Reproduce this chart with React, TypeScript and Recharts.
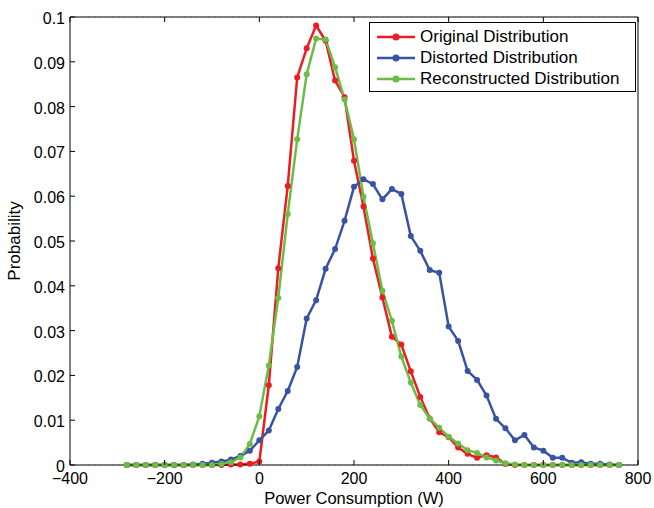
import { LineChart, Line, XAxis, YAxis, CartesianGrid } from 'recharts';

const POWER = [
  -280, -260, -240, -220, -200, -180, -160, -140, -120, -100, -80, -60, -40, -20, 0,
  20, 40, 60, 80, 100, 120, 140, 160, 180, 200, 220, 240, 260, 280, 300, 320, 340, 360,
  380, 400, 420, 440, 460, 480, 500, 520, 540, 560, 580, 600, 620, 640, 660, 680, 700,
  720, 740, 760,
];

const ORIGINAL = [
  0, 0, 0, 0, 0, 0, 0, 0, 0, 0, 0, 0.0001, 0.0001, 0.0003, 0.0008,
  0.0178, 0.0439, 0.0623, 0.0865, 0.093, 0.0981, 0.0947, 0.0858, 0.0821, 0.0679, 0.0577,
  0.0461, 0.0374, 0.0286, 0.0269, 0.0209, 0.0152, 0.0104, 0.0073, 0.0062, 0.0039, 0.0025,
  0.0016, 0.0022, 0.0017, 0.0002, 0, 0, 0, 0, 0, 0, 0, 0, 0, 0, 0, 0,
];

const DISTORTED = [
  0, 0, 0, 0, 0, 0, 0, 0.0001, 0.0003, 0.0005, 0.0008, 0.0012, 0.002, 0.0032, 0.0055,
  0.0077, 0.0125, 0.0165, 0.0219, 0.0327, 0.0368, 0.0438, 0.0482, 0.0545, 0.0621, 0.0638,
  0.0627, 0.0593, 0.0616, 0.0605, 0.0511, 0.0478, 0.0435, 0.0429, 0.0309, 0.0277, 0.021,
  0.019, 0.0155, 0.0103, 0.0082, 0.0055, 0.0067, 0.0039, 0.0032, 0.0016, 0.0016, 0.0005,
  0.0006, 0.0003, 0.0003, 0.0001, 0,
];

const RECONSTRUCTED = [
  0, 0, 0, 0, 0, 0, 0, 0, 0, 0, 0.0002, 0.0006, 0.0017, 0.0047, 0.0109,
  0.0222, 0.0373, 0.056, 0.0727, 0.0872, 0.0952, 0.095, 0.0888, 0.0816, 0.0727, 0.0599,
  0.0495, 0.0389, 0.0322, 0.0242, 0.0184, 0.0134, 0.0104, 0.0083, 0.0063, 0.0048, 0.0033,
  0.0027, 0.0017, 0.001, 0.0004, 0.0001, 0, 0, 0, 0, 0, 0, 0, 0, 0, 0, 0,
];

const X_TICKS = [-400, -200, 0, 200, 400, 600, 800];
const Y_TICKS = [0, 0.01, 0.02, 0.03, 0.04, 0.05, 0.06, 0.07, 0.08, 0.09, 0.1];

const SERIES = [
  { key: 'original', name: 'Original Distribution', color: '#ec1c24' },
  { key: 'distorted', name: 'Distorted Distribution', color: '#3953a4' },
  { key: 'reconstructed', name: 'Reconstructed Distribution', color: '#6cbd45' },
];

const data = POWER.map((x, i) => ({
  x,
  original: ORIGINAL[i],
  distorted: DISTORTED[i],
  reconstructed: RECONSTRUCTED[i],
}));

const FONT = '"Liberation Sans", Arial, sans-serif';

const fmtX = (v: number) => (v < 0 ? `\u2212${Math.abs(v)}` : String(v));

function BottomTick({ x, y, payload }: any) {
  return (
    <g>
      <line x1={x} y1={y} x2={x} y2={y - 5} stroke="#000" />
      <text x={x} y={y + 19} textAnchor="middle" fontSize={16} fontFamily={FONT} fill="#000">
        {fmtX(payload.value)}
      </text>
    </g>
  );
}

function TopTick({ x, y }: any) {
  return <line x1={x} y1={y} x2={x} y2={y + 5} stroke="#000" />;
}

function LeftTick({ x, y, payload }: any) {
  return (
    <g>
      <line x1={x} y1={y} x2={x + 5} y2={y} stroke="#000" />
      <text x={x - 5} y={y + 7} textAnchor="end" fontSize={16} fontFamily={FONT} fill="#000">
        {String(payload.value)}
      </text>
    </g>
  );
}

function RightTick({ x, y }: any) {
  return <line x1={x} y1={y} x2={x - 5} y2={y} stroke="#000" />;
}

export default function App() {
  return (
    <div style={{ position: 'absolute', left: 0, top: 0, width: 654, height: 508, background: '#fff' }}>
      <LineChart width={654} height={508} data={data} margin={{ top: 16, right: 15, left: 10, bottom: 0 }}>
        <CartesianGrid vertical={false} stroke="#b5b5b5" strokeDasharray="1 5" />
        <XAxis
          xAxisId="bottom"
          dataKey="x"
          type="number"
          domain={[-400, 800]}
          ticks={X_TICKS}
          height={43}
          tickSize={0}
          tickMargin={0}
          tickLine={false}
          axisLine={{ stroke: '#000' }}
          tick={<BottomTick />}
          label={{ value: 'Power Consumption (W)', position: 'insideBottom', offset: 4, fontSize: 16.5, fontFamily: FONT, fill: '#000' }}
        />
        <XAxis
          xAxisId="top"
          orientation="top"
          dataKey="x"
          type="number"
          domain={[-400, 800]}
          ticks={X_TICKS}
          height={1}
          tickSize={0}
          tickMargin={0}
          tickLine={false}
          axisLine={{ stroke: '#000' }}
          tick={<TopTick />}
        />
        <YAxis
          yAxisId="left"
          type="number"
          domain={[0, 0.1]}
          ticks={Y_TICKS}
          width={60}
          tickSize={0}
          tickMargin={0}
          tickLine={false}
          axisLine={{ stroke: '#000' }}
          tick={<LeftTick />}
          label={{ value: 'Probability', angle: -90, position: 'insideLeft', offset: 0, dx: 4, fontSize: 17, fontFamily: FONT, fill: '#000', style: { textAnchor: 'middle' } }}
        />
        <YAxis
          yAxisId="right"
          orientation="right"
          type="number"
          domain={[0, 0.1]}
          ticks={Y_TICKS}
          width={1}
          tickSize={0}
          tickMargin={0}
          tickLine={false}
          axisLine={{ stroke: '#000' }}
          tick={<RightTick />}
        />
        {SERIES.map((s) => (
          <Line
            key={s.key}
            xAxisId="bottom"
            yAxisId="left"
            type="linear"
            dataKey={s.key}
            name={s.name}
            stroke={s.color}
            strokeWidth={2.5}
            dot={{ r: 3, fill: s.color, stroke: s.color, strokeWidth: 0 }}
            isAnimationActive={false}
          />
        ))}
      </LineChart>
      <div
        style={{
          position: 'absolute',
          left: 369,
          top: 22,
          width: 267,
          height: 70,
          border: '1px solid #000',
          background: '#fff',
          fontFamily: FONT,
          fontSize: 17,
          color: '#000',
          paddingTop: 3,
          boxSizing: 'border-box',
        }}
      >
        {SERIES.map((s) => (
          <div key={s.key} style={{ display: 'flex', alignItems: 'center', height: 21.3 }}>
            <svg width={50} height={12} style={{ flex: 'none' }}>
              <line x1={7} y1={6} x2={45} y2={6} stroke={s.color} strokeWidth={2.5} />
              <circle cx={26} cy={6} r={3.5} fill={s.color} />
            </svg>
            <span style={{ whiteSpace: 'nowrap' }}>{s.name}</span>
          </div>
        ))}
      </div>
    </div>
  );
}
